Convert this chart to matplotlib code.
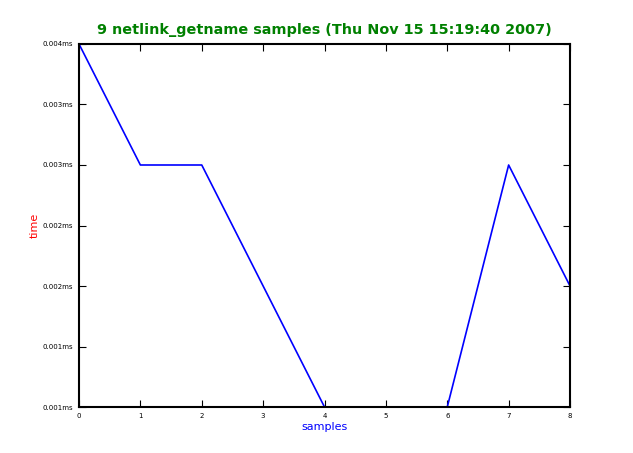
import numpy as np
import matplotlib
matplotlib.use('Agg')
import matplotlib.pyplot as plt

samples = [0, 1, 2, 3, 4, 5, 6, 7, 8]
times = [0.004, 0.003, 0.003, 0.002, 0.001, 0.001, 0.001, 0.003, 0.002]
ytick_vals = [0.001, 0.0015, 0.002, 0.0025, 0.003, 0.0035, 0.004]
ytick_labels = ['0.001ms', '0.001ms', '0.002ms', '0.002ms',
                '0.003ms', '0.003ms', '0.004ms']

fig = plt.figure(figsize=(6.33, 4.53), dpi=100)
ax = fig.add_axes([0.1248, 0.1015, 0.7757, 0.8014])

ax.plot(samples, times, color='blue', linewidth=1.2)

ax.set_xlim(0, 8)
ax.set_ylim(0.001, 0.004)
ax.set_xticks(samples)
ax.set_yticks(ytick_vals)
ax.set_yticklabels(ytick_labels)

ax.tick_params(direction='in', length=5, width=0.8, labelsize=5,
               top=True, right=True, pad=4)
for s in ax.spines.values():
    s.set_linewidth(1.5)

ax.set_title('9 netlink_getname samples (Thu Nov 15 15:19:40 2007)',
             color='green', fontweight='bold', fontsize=10.4, pad=7)
ax.set_xlabel('samples', color='blue', fontsize=8, labelpad=2.5)
ax.set_ylabel('time', color='red', fontsize=8, labelpad=2)

plt.savefig('out.png', dpi=100)
